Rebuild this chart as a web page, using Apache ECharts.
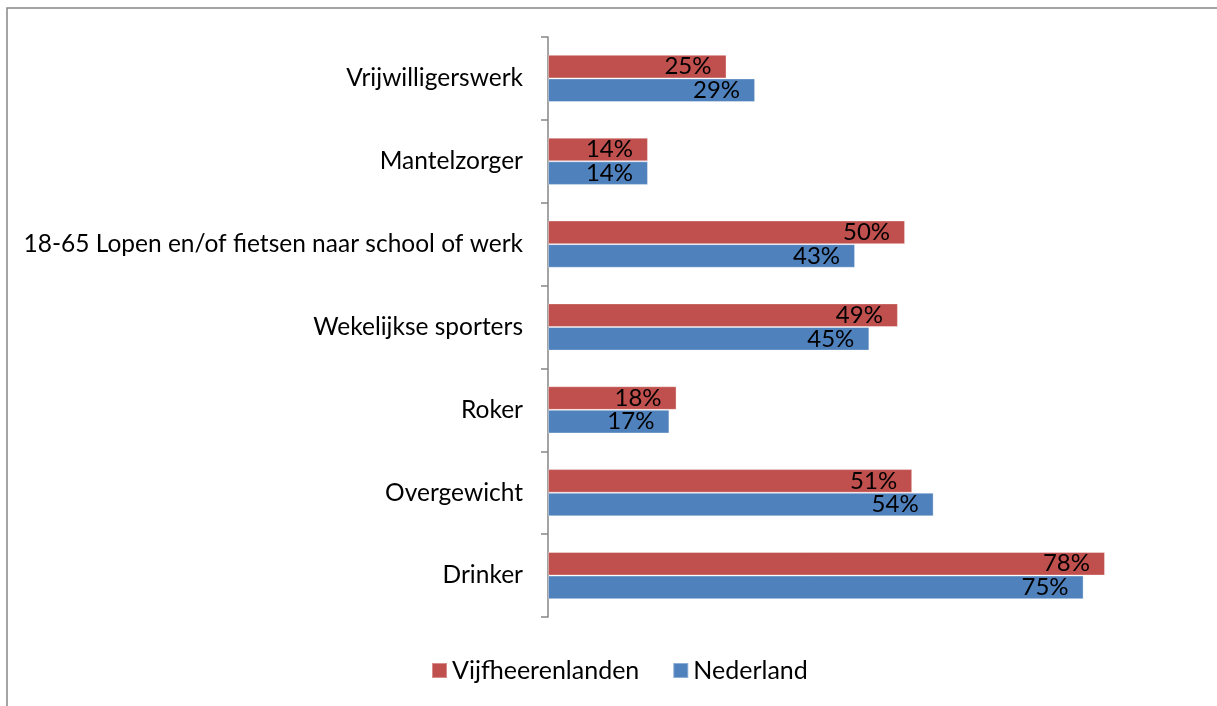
<!DOCTYPE html>
<html>
<head>
<meta charset="utf-8">
<script src="https://cdn.jsdelivr.net/npm/echarts@6/dist/echarts.min.js"></script>
<style>
  html, body { margin: 0; padding: 0; background: #fff; }
  #chart { width: 1217px; height: 706px; }
</style>
</head>
<body>
<div id="chart"></div>
<script>
// Categories, top to bottom
const categories = [
  'Vrijwilligerswerk',
  'Mantelzorger',
  '18-65 Lopen en/of fietsen naar school of werk',
  'Wekelijkse sporters',
  'Roker',
  'Overgewicht',
  'Drinker'
];

const seriesNames = ['Vijfheerenlanden', 'Nederland'];

// Percentages per category
const vijfheerenlanden = [25, 14, 50, 49, 18, 51, 78];
const nederland = [29, 14, 43, 45, 17, 54, 75];

const FONT = 'Lato, "Open Sans", sans-serif';

const chart = echarts.init(document.getElementById('chart'), null, { renderer: 'canvas' });

const barLabel = {
  show: true,
  position: 'insideRight',
  distance: 15,
  color: '#000',
  fontFamily: FONT,
  fontSize: 24,
  formatter: p => p.value + '%'
};

chart.setOption({
  animation: false,
  backgroundColor: '#fff',
  graphic: [{
    type: 'rect',
    shape: { x: 7, y: 8, width: 1400, height: 900 },
    style: { fill: 'none', stroke: '#868686', lineWidth: 1.5 },
    silent: true
  }],
  grid: {
    left: 548,
    top: 37,
    width: 642.7,
    height: 580,
    containLabel: false
  },
  legend: {
    data: seriesNames,
    left: 431,
    top: 657,
    padding: 0,
    itemWidth: 15,
    itemHeight: 15,
    itemGap: 33,
    icon: 'rect',
    textStyle: { color: '#000', fontFamily: FONT, fontSize: 25, lineHeight: 27 }
  },
  xAxis: {
    type: 'value',
    min: 0,
    max: 90,
    show: false
  },
  yAxis: {
    type: 'category',
    data: categories,
    inverse: true,
    axisLine: { show: true, lineStyle: { color: '#868686', width: 1.5 } },
    axisTick: { show: true, length: 7, alignWithLabel: false, lineStyle: { color: '#868686', width: 1.5 } },
    axisLabel: { color: '#000', fontFamily: FONT, fontSize: 24.5, margin: 25 },
    splitLine: { show: false }
  },
  series: [
    {
      name: seriesNames[0],
      type: 'bar',
      data: vijfheerenlanden,
      barGap: '0%',
      barCategoryGap: '43%',
      itemStyle: { color: '#C0504D', borderColor: 'rgba(255,255,255,0.35)', borderWidth: 1 },
      label: barLabel
    },
    {
      name: seriesNames[1],
      type: 'bar',
      data: nederland,
      barGap: '0%',
      barCategoryGap: '43%',
      itemStyle: { color: '#4F81BD', borderColor: 'rgba(255,255,255,0.35)', borderWidth: 1 },
      label: barLabel
    }
  ]
});
</script>
</body>
</html>
